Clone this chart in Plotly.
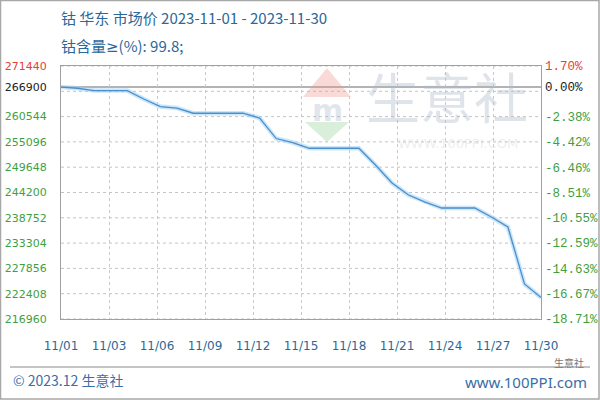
import plotly.graph_objects as go
import numpy as np

# ---------------- data ----------------
dates = ["11/%02d" % d for d in range(1, 31)]
prices = [266900, 266650, 266150, 266150, 266150, 264330, 262710, 262390, 261270, 261270,
          261270, 261270, 260240, 255820, 254960, 253730, 253730, 253730, 253730, 250120,
          246240, 243660, 242150, 240860, 240860, 240860, 238920, 236770, 224500, 221590]
x_tick_labels = ["11/01", "11/03", "11/06", "11/09", "11/12", "11/15",
                 "11/18", "11/21", "11/24", "11/27", "11/30"]
left_tick_values = [271440, 266900, 260544, 255096, 249648, 244200,
                    238752, 233304, 227856, 222408, 216960]
left_tick_labels = ["271440", "266900", "260544", "255096", "249648", "244200",
                    "238752", "233304", "227856", "222408", "216960"]
right_tick_labels = ["1.70%", "0.00%", "-2.38%", "-4.42%", "-6.46%", "-8.51%",
                     "-10.55%", "-12.59%", "-14.63%", "-16.67%", "-18.71%"]
base_price = 266900
y_min, y_max = 216960, 271440
title_line1 = "钴 华东 市场价 2023-11-01 - 2023-11-30"
title_line2 = '钴含量<span style="font-family:DejaVu Sans">≥</span>(%): 99.8;'

# ---------------- styling ----------------
RED, BLACK, GREEN, BLUE = "#e5403a", "#222222", "#3f9f3f", "#2b6898"
W, H = 600, 400
L, R, T, B = 61, 59, 66, 81
PW, PH = W - L - R, H - T - B


def px(xp):
    return (xp - L) / PW


def py(yp):
    return (H - B - yp) / PH


def tick_color(i):
    return RED if i == 0 else (BLACK if i == 1 else GREEN)


x = list(range(len(prices)))
xt = np.linspace(0, len(prices) - 1, len(x_tick_labels))

fig = go.Figure()
fig.add_trace(go.Scatter(x=x, y=prices, mode="lines", hoverinfo="skip",
                         line=dict(color="rgba(160,210,245,0.55)", width=4.5)))
fig.add_trace(go.Scatter(x=x, y=prices, mode="lines", text=dates,
                         line=dict(color="#4a8fcc", width=1.3)))

shapes = []
# horizontal dotted grid: 10 equal divisions
for k in range(11):
    v = y_min + k * (y_max - y_min) / 10
    shapes.append(dict(type="line", xref="paper", x0=0, x1=1, yref="y", y0=v, y1=v,
                       line=dict(color="#c4c4c4", width=1, dash="dot"), layer="below"))
# base price line
shapes.append(dict(type="line", xref="paper", x0=0, x1=1, yref="y", y0=base_price, y1=base_price,
                   line=dict(color="#9a9a9a", width=1.5), layer="below"))
# footer separator
shapes.append(dict(type="line", xref="paper", yref="paper", x0=px(10), x1=px(590), y0=py(367), y1=py(367),
                   line=dict(color="#b0b0b0", width=1.5)))
# outer border
shapes.append(dict(type="rect", xref="paper", yref="paper", x0=px(0.5), x1=px(599), y0=py(399), y1=py(0.5),
                   line=dict(color="#a8a8a8", width=1.5)))
# watermark logo (house roof / base)
shapes.append(dict(type="path", xref="paper", yref="paper",
                   path="M %f %f L %f %f L %f %f Z" % (px(303), py(97), px(327), py(68), px(351), py(97)),
                   fillcolor="rgba(240,150,140,0.35)", line=dict(width=0), layer="below"))
shapes.append(dict(type="path", xref="paper", yref="paper",
                   path="M %f %f L %f %f L %f %f Z" % (px(305), py(122), px(349), py(122), px(327), py(142)),
                   fillcolor="rgba(150,210,150,0.35)", line=dict(width=0), layer="below"))

annotations = [
    dict(text=title_line1, x=px(59), y=py(17), xref="paper", yref="paper", xanchor="left", yanchor="middle",
         showarrow=False, font=dict(family="Noto Sans CJK SC", size=15, color=BLUE)),
    dict(text=title_line2, x=px(59), y=py(45), xref="paper", yref="paper", xanchor="left", yanchor="middle",
         showarrow=False, font=dict(family="Noto Sans CJK SC", size=15, color=BLUE)),
    dict(text="© 2023.12 生意社", x=px(11), y=py(380), xref="paper", yref="paper", xanchor="left",
         yanchor="middle", showarrow=False, font=dict(family="Noto Sans CJK SC", size=14, color="#3a6ea8")),
    dict(text="www.100PPI.com", x=px(589), y=py(382), xref="paper", yref="paper", xanchor="right",
         yanchor="middle", showarrow=False, font=dict(family="Noto Sans", size=15, color="#3a6ea8")),
    dict(text="生意社", x=px(586), y=py(362), xref="paper", yref="paper", xanchor="right",
         yanchor="middle", showarrow=False, font=dict(family="Noto Sans CJK SC", size=10, color="#777777")),
    dict(text="生意社", x=px(447), y=py(95), xref="paper", yref="paper", xanchor="center",
         yanchor="middle", showarrow=False,
         font=dict(family="Noto Sans CJK SC", size=54, color="rgba(175,188,205,0.40)")),
    dict(text="WWW.100PPI.COM", x=px(458), y=py(143), xref="paper", yref="paper", xanchor="center",
         yanchor="middle", showarrow=False, font=dict(family="DejaVu Sans", size=13, color="rgba(190,195,205,0.30)")),
    dict(text="<b>m</b>", x=px(327), y=py(110), xref="paper", yref="paper", xanchor="center",
         yanchor="middle", showarrow=False, font=dict(family="DejaVu Sans", size=30, color="rgba(170,180,200,0.35)")),
]

fig.update_layout(
    width=W, height=H,
    margin=dict(l=L, r=R, t=T, b=B, autoexpand=False),
    paper_bgcolor="white", plot_bgcolor="white",
    showlegend=False,
    shapes=shapes,
    annotations=annotations,
    xaxis=dict(range=[0, len(prices) - 1], tickvals=list(xt), ticktext=x_tick_labels,
               showgrid=True, gridcolor="#c8c8c8", griddash="dot", gridwidth=1,
               zeroline=False, showline=True, linecolor="#a0a0a0", linewidth=1, mirror=True,
               ticks="", ticklabelstandoff=16, automargin=False,
               tickfont=dict(family="DejaVu Sans", size=12, color=BLUE)),
    yaxis=dict(range=[y_min, y_max], tickvals=left_tick_values,
               ticktext=['<span style="color:%s">%s</span>' % (tick_color(i), t)
                         for i, t in enumerate(left_tick_labels)],
               showgrid=False, zeroline=False, showline=True, linecolor="#a0a0a0", linewidth=1,
               mirror=True, ticks="", ticklabelstandoff=11, automargin=False,
               tickfont=dict(family="DejaVu Sans", size=11, color=GREEN)),
    yaxis2=dict(range=[y_min, y_max], overlaying="y", side="right", tickvals=left_tick_values,
                ticktext=['<span style="color:%s">%s</span>' % (tick_color(i), t)
                          for i, t in enumerate(right_tick_labels)],
                showgrid=False, zeroline=False, ticks="", ticklabelstandoff=3, automargin=False,
                tickfont=dict(family="Liberation Mono", size=12.5, color=GREEN)),
)
fig.add_trace(go.Scatter(x=[x[0]], y=[prices[0]], yaxis="y2", mode="markers",
                         marker=dict(opacity=0), hoverinfo="skip"))

fig.write_html("out.html", config={"displayModeBar": False},
               post_script="document.body.style.margin='0';document.body.style.padding='0';")
